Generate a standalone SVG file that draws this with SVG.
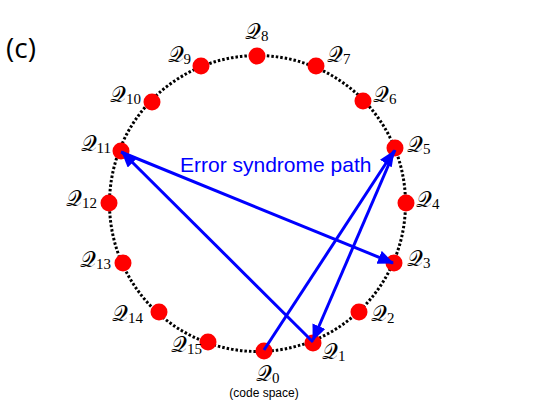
<svg xmlns="http://www.w3.org/2000/svg" width="538" height="401" viewBox="0 0 538 401">
<style>
.q{font-family:"DejaVu Serif","Liberation Serif",serif;font-size:22px;fill:#000}
.e{text-anchor:end}
.s{font-family:"Liberation Serif",serif;font-size:15px}
.dot{fill:#ff0000}
.arr{stroke:#0000ff;stroke-width:3;fill:none;marker-end:url(#ah)}
</style>
<defs>
<marker id="ah" markerUnits="userSpaceOnUse" markerWidth="16" markerHeight="14" refX="15" refY="7" orient="auto">
<path d="M0,0 L16,7 L0,14 Z" fill="#0000ff"/>
</marker>
</defs>
<rect width="538" height="401" fill="#fff"/>
<text x="6" y="58" font-family="Open Sans,Liberation Sans,sans-serif" font-size="28">(c)</text>
<circle cx="257.5" cy="203.5" r="148" fill="none" stroke="#000" stroke-width="3" stroke-dasharray="2.5 2"/>
<g id="nodes">
<g id="Q0"><circle class="dot" cx="264" cy="351" r="8.5"/><text class="q" x="256" y="381">𝒬<tspan class="s" dy="2">0</tspan></text><text x="264" y="397" text-anchor="middle" font-family="Liberation Sans,sans-serif" font-size="12">(code space)</text></g>
<g id="Q1"><circle class="dot" cx="313" cy="343" r="8.5"/><text class="q" x="322" y="359">𝒬<tspan class="s" dy="2">1</tspan></text></g>
<g id="Q2"><circle class="dot" cx="359" cy="312" r="8.5"/><text class="q" x="371" y="321">𝒬<tspan class="s" dy="2">2</tspan></text></g>
<g id="Q3"><circle class="dot" cx="394" cy="263" r="8.5"/><text class="q" x="407" y="266">𝒬<tspan class="s" dy="2">3</tspan></text></g>
<g id="Q4"><circle class="dot" cx="406" cy="203" r="8.5"/><text class="q" x="416" y="207">𝒬<tspan class="s" dy="2">4</tspan></text></g>
<g id="Q5"><circle class="dot" cx="395" cy="148" r="8.5"/><text class="q" x="407" y="152">𝒬<tspan class="s" dy="2">5</tspan></text></g>
<g id="Q6"><circle class="dot" cx="363" cy="101" r="8.5"/><text class="q" x="373" y="102">𝒬<tspan class="s" dy="2">6</tspan></text></g>
<g id="Q7"><circle class="dot" cx="316" cy="66" r="8.5"/><text class="q" x="327" y="62">𝒬<tspan class="s" dy="2">7</tspan></text></g>
<g id="Q8"><circle class="dot" cx="257" cy="56" r="8.5"/><text class="q" x="245" y="39">𝒬<tspan class="s" dy="2">8</tspan></text></g>
<g id="Q9"><circle class="dot" cx="201" cy="66" r="8.5"/><text class="q e" x="191" y="62">𝒬<tspan class="s" dy="2">9</tspan></text></g>
<g id="Q10"><circle class="dot" cx="152" cy="102" r="8.5"/><text class="q e" x="141" y="102">𝒬<tspan class="s" dy="2">10</tspan></text></g>
<g id="Q11"><circle class="dot" cx="121" cy="151" r="8.5"/><text class="q e" x="111" y="151">𝒬<tspan class="s" dy="2">11</tspan></text></g>
<g id="Q12"><circle class="dot" cx="109" cy="203" r="8.5"/><text class="q e" x="97" y="206">𝒬<tspan class="s" dy="2">12</tspan></text></g>
<g id="Q13"><circle class="dot" cx="123" cy="263" r="8.5"/><text class="q e" x="111" y="267">𝒬<tspan class="s" dy="2">13</tspan></text></g>
<g id="Q14"><circle class="dot" cx="159" cy="312" r="8.5"/><text class="q e" x="143" y="321">𝒬<tspan class="s" dy="2">14</tspan></text></g>
<g id="Q15"><circle class="dot" cx="208" cy="342" r="8.5"/><text class="q e" x="202" y="352">𝒬<tspan class="s" dy="2">15</tspan></text></g>
</g>
<g id="connectors">
<line class="arr" x1="264" y1="350" x2="394" y2="151"/>
<line class="arr" x1="395" y1="150" x2="313" y2="340"/>
<line class="arr" x1="313" y1="342" x2="122" y2="152"/>
<line class="arr" x1="121" y1="152" x2="393" y2="263"/>
</g>
<text x="180" y="172" font-family="Liberation Sans,Arial,sans-serif" font-size="21" fill="#0000ff">Error syndrome path</text>
</svg>
